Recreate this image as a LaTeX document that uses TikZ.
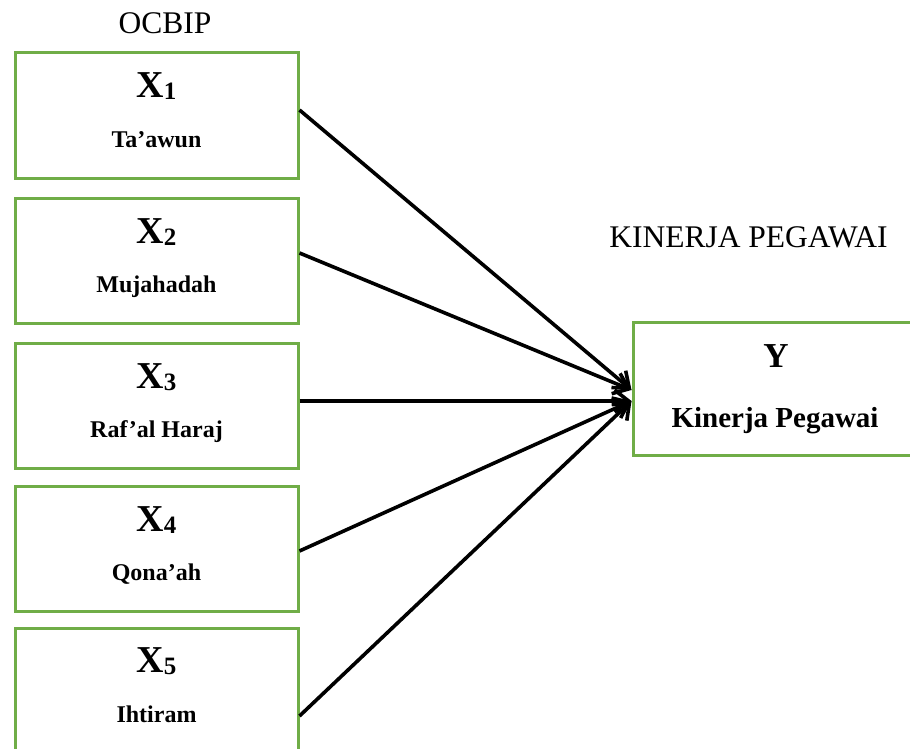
\documentclass[tikz,border=0pt]{standalone}
\usepackage{fontspec}
\setmainfont{Liberation Serif}
\usetikzlibrary{arrows.meta}
\definecolor{boxgreen}{HTML}{70AD47}
\tikzset{
  box/.style={draw=boxgreen, line width=3pt, minimum width=283pt, minimum height=125pt, inner sep=0pt},
  ybox/.style={draw=boxgreen, line width=3pt, minimum width=284pt, minimum height=133pt, inner sep=0pt},
  var/.style={anchor=base, inner sep=0pt, font=\fontsize{38}{38}\selectfont\bfseries},
  lab/.style={anchor=base, inner sep=0pt, font=\fontsize{24}{24}\selectfont\bfseries},
  head/.style={anchor=base, inner sep=0pt, font=\fontsize{31.5}{31.5}\selectfont},
  conn/.style={line width=3.6pt, -{Straight Barb[length=14pt, width=22pt, line width=3.6pt]}}
}
\newcommand{\subdig}[1]{{\fontsize{25}{25}\selectfont\raisebox{-2pt}{#1}}}
\begin{document}
\begin{tikzpicture}[x=1pt, y=-1pt]
\useasboundingbox (0,0) rectangle (910,749);
\clip (0,0) rectangle (910,749);
\node[head] (ocbip) at (165,34) {OCBIP};
\node[head] (kp) at (748.5,247) {KINERJA PEGAWAI};
% left boxes
\node[box] (x1) at (156.5,115.5) {};
\node[box] (x2) at (156.5,261) {};
\node[box] (x3) at (156.5,405.5) {};
\node[box] (x4) at (156.5,549) {};
\node[box] (x5) at (156.5,690.5) {};
\node[var] (x1v) at (156.5,98) {X\subdig{1}};
\node[lab] (x1l) at (156.5,147) {Ta’awun};
\node[var] (x2v) at (156.5,243) {X\subdig{2}};
\node[lab] (x2l) at (156.5,292) {Mujahadah};
\node[var] (x3v) at (156.5,388) {X\subdig{3}};
\node[lab] (x3l) at (156.5,437) {Raf’al Haraj};
\node[var] (x4v) at (156.5,531) {X\subdig{4}};
\node[lab] (x4l) at (156.5,580) {Qona’ah};
\node[var] (x5v) at (156.5,672) {X\subdig{5}};
\node[lab] (x5l) at (156.5,722) {Ihtiram};
% right box
\node[ybox] (y) at (775,388.5) {};
\node[var, font=\fontsize{35}{35}\selectfont\bfseries] (yv) at (776,367) {Y};
\node[lab, font=\fontsize{29}{29}\selectfont\bfseries] (yl) at (775,427) {Kinerja Pegawai};
% connectors
\draw[conn] ([yshift=5.5pt]x1.east) -- ([yshift=-1.5pt]y.west);
\draw[conn] ([yshift=8pt]x2.east) -- ([yshift=-1.5pt]y.west);
\draw[conn] ([yshift=4.5pt]x3.east) -- ([yshift=-12.5pt]y.west);
\draw[conn] ([yshift=-2pt]x4.east) -- ([yshift=-12.5pt]y.west);
\draw[conn] ([yshift=-25.5pt]x5.east) -- ([yshift=-12.5pt]y.west);
\end{tikzpicture}
\end{document}
